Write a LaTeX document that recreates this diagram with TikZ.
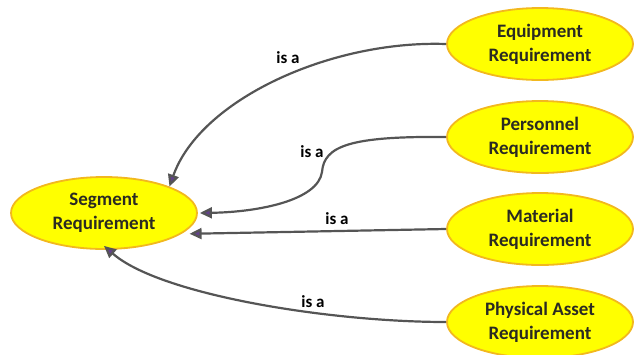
\documentclass[tikz,border=0pt]{standalone}
\usepackage{fontspec}
\setmainfont{Carlito}
\usetikzlibrary{arrows.meta, positioning, shapes.geometric}
\definecolor{reqFill}{HTML}{FFFF00}
\definecolor{reqBorder}{HTML}{F2B81E}
\definecolor{reqText}{HTML}{2A2A22}
\definecolor{linkGray}{HTML}{555555}
\definecolor{tipPurple}{HTML}{62418C}

\begin{document}
\begin{tikzpicture}[x=1pt, y=-1pt,
    req/.style={ellipse, draw=reqBorder, line width=1.8pt, fill=reqFill,
                minimum width=186pt, minimum height=72pt, inner sep=0pt,
                align=center, text=reqText,
                font=\fontsize{19}{24}\selectfont\bfseries},
    isa/.style={-{Triangle[length=12pt, width=11pt, fill=tipPurple]},
                draw=linkGray, line width=2.2pt},
    lbl/.style={text=black, font=\fontsize{17}{18}\selectfont\bfseries}]
    \useasboundingbox (0,0) rectangle (636,354);
    \node[req] (seg) at (104,213) {Segment\\Requirement};
    \node[req] (eqp) at (540,44)  {Equipment\\Requirement};
    \node[req] (per) at (540,137) {Personnel\\Requirement};
    \node[req] (mat) at (540,229) {Material\\Requirement};
    \node[req] (phy) at (540,322) {Physical Asset\\Requirement};
    % generalisation links
    \draw[isa] (eqp.west) .. controls (330,40) and (200,100) .. (seg.22);
    \draw[isa] (per.west) .. controls (350,136) and (324,146) .. (322,172)
               .. controls (318,200) and (260,212) .. ([xshift=2pt]seg.east);
    \draw[isa] (mat.west) -- ([xshift=8pt]seg.-15);
    \draw[isa] (phy.west) .. controls (330,322) and (160,295) .. ([yshift=4pt]seg.south);
    \node[lbl] (isa1) at (288,58)  {is a};
    \node[lbl] (isa2) at (312,152) {is a};
    \node[lbl] (isa3) at (337,219) {is a};
    \node[lbl] (isa4) at (313,302) {is a};
\end{tikzpicture}
\end{document}
